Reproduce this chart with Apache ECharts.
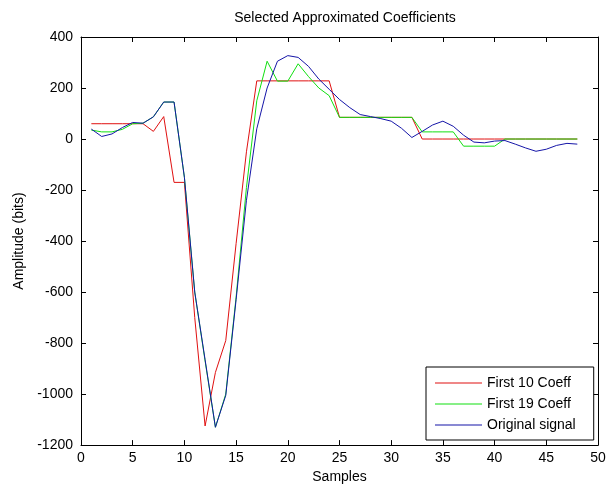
<!DOCTYPE html>
<html>
<head>
<meta charset="utf-8">
<script src="https://cdn.jsdelivr.net/npm/echarts@6/dist/echarts.min.js"></script>
<style>
html,body{margin:0;padding:0;background:#fff;}
#chart{width:610px;height:489px;}
</style>
</head>
<body>
<div id="chart"></div>
<script>
var samples = [1,2,3,4,5,6,7,8,9,10,11,12,13,14,15,16,17,18,19,20,21,22,23,24,25,26,27,28,29,30,31,32,33,34,35,36,37,38,39,40,41,42,43,44,45,46,47,48];
var first10 = [60,60,60,60,60,60,30,88,-170,-170,-700,-1125,-915,-790,-410,-50,228,228,228,228,228,228,228,228,85,85,85,85,85,85,85,85,0,0,0,0,0,0,0,0,0,0,0,0,0,0,0,0];
var first19 = [35,28,28,38,60,62,87,145,145,-150,-600,-870,-1130,-1000,-620,-190,150,305,227,227,295,245,200,170,85,85,85,85,85,85,85,85,28,28,28,28,-28,-28,-28,-28,0,0,0,0,0,0,0,0];
var original = [39,10,20,45,65,62,87,145,145,-150,-600,-865,-1130,-1005,-630,-240,40,200,305,327,320,285,235,195,155,123,96,88,80,70,42,6,30,55,70,50,15,-12,-15,-8,-6,-20,-35,-48,-40,-25,-17,-20];
var seriesNames = ['First 10 Coeff','First 19 Coeff','Original signal'];
var xTicks = {min:0, max:50, interval:5};
var yTicks = {min:-1200, max:400, interval:200};

function pairs(vals){ return samples.map(function(s,i){ return [s, vals[i]]; }); }

var FONT = "'Liberation Sans', Arial, sans-serif";
var chart = echarts.init(document.getElementById('chart'), null, {renderer:'canvas'});
var axisCommon = {
  axisLine:{show:true, onZero:false, lineStyle:{color:'#000', width:1}},
  axisTick:{show:true, inside:true, length:5, lineStyle:{color:'#000'}},
  splitLine:{show:false}
};
function plain(v){ return String(v); }
chart.setOption({
  animation:false,
  backgroundColor:'#fff',
  title:{
    text:'Selected Approximated Coefficients',
    left:340, top:6, textAlign:'center',
    textStyle:{fontFamily:FONT, fontSize:14, fontWeight:'normal', color:'#000'}
  },
  grid:{left:81, right:12, top:37, bottom:42.5, containLabel:false},
  legend:{
    data:seriesNames,
    orient:'vertical',
    left:426, top:367,
    padding:[8,18,7,9],
    itemGap:5,
    itemWidth:47, itemHeight:1,
    icon:'rect',
    backgroundColor:'#fff',
    borderColor:'#000', borderWidth:1, borderRadius:0,
    textStyle:{fontFamily:FONT, fontSize:14, color:'#000', lineHeight:16}
  },
  xAxis:[
    Object.assign({type:'value', position:'bottom', min:xTicks.min, max:xTicks.max, interval:xTicks.interval,
      name:'Samples', nameLocation:'middle', nameGap:24,
      nameTextStyle:{fontFamily:FONT, fontSize:14, color:'#000'},
      axisLabel:{fontFamily:FONT, fontSize:14, color:'#000', margin:6, formatter:plain}}, axisCommon),
    Object.assign({type:'value', position:'top', min:xTicks.min, max:xTicks.max, interval:xTicks.interval,
      axisLabel:{show:false}}, axisCommon)
  ],
  yAxis:[
    Object.assign({type:'value', position:'left', min:yTicks.min, max:yTicks.max, interval:yTicks.interval,
      name:'Amplitude (bits)', nameLocation:'middle', nameGap:52,
      nameTextStyle:{fontFamily:FONT, fontSize:14, color:'#000'},
      axisLabel:{fontFamily:FONT, fontSize:14, color:'#000', margin:8, formatter:plain}}, axisCommon),
    Object.assign({type:'value', position:'right', min:yTicks.min, max:yTicks.max, interval:yTicks.interval,
      axisLabel:{show:false}}, axisCommon)
  ],
  series:[
    {name:seriesNames[0], type:'line', data:pairs(first10), symbol:'none', lineStyle:{color:'#e01010', width:1}, itemStyle:{color:'#e01010'}},
    {name:seriesNames[1], type:'line', data:pairs(first19), symbol:'none', lineStyle:{color:'#10e010', width:1}, itemStyle:{color:'#10e010'}},
    {name:seriesNames[2], type:'line', data:pairs(original), symbol:'none', lineStyle:{color:'#1515a8', width:1}, itemStyle:{color:'#1515a8'}}
  ]
});
</script>
</body>
</html>
